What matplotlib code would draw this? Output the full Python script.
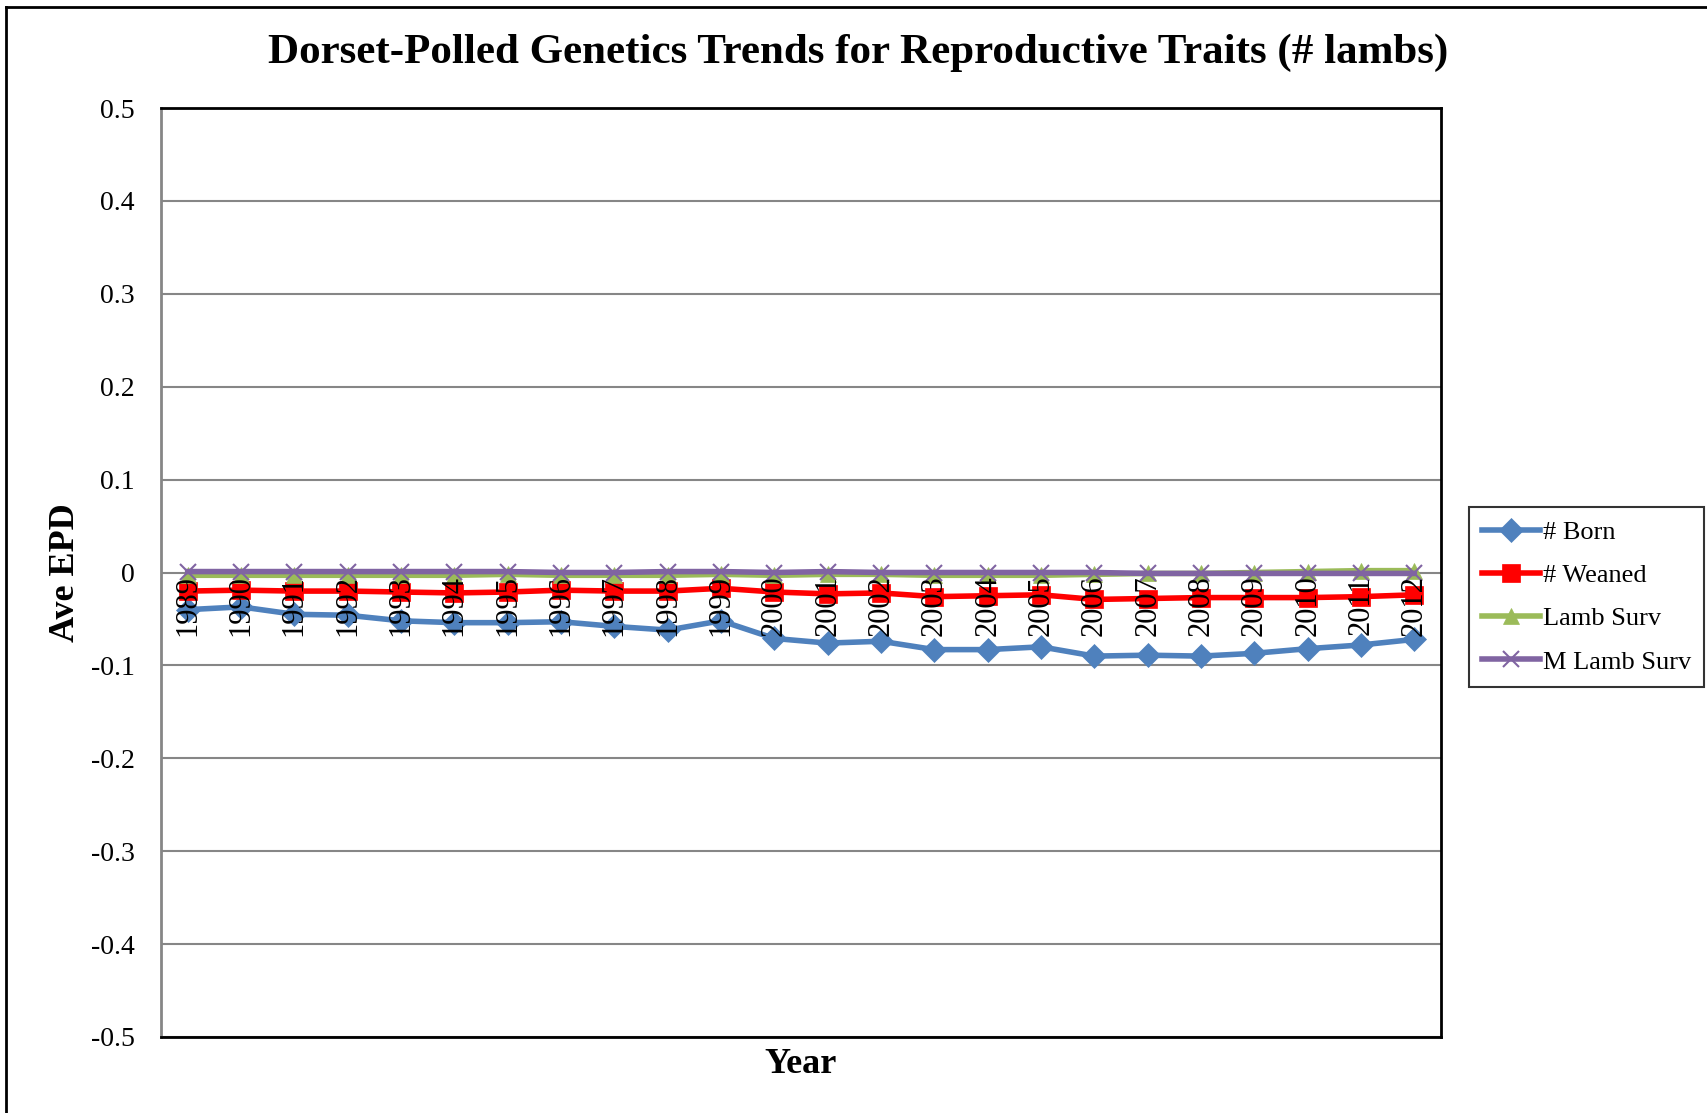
import matplotlib
matplotlib.use('Agg')
import matplotlib.pyplot as plt
from matplotlib.lines import Line2D

plt.rcParams['font.family'] = ['Liberation Serif', 'DejaVu Serif']

years = ['1989', '1990', '1991', '1992', '1993', '1994', '1995', '1996', '1997', '1998', '1999', '2000',
	'2001', '2002', '2003', '2004', '2005', '2006', '2007', '2008', '2009', '2010', '2011', '2012']

born = [-0.040, -0.037, -0.045, -0.046, -0.052, -0.054, -0.054, -0.053, -0.058, -0.062, -0.052, -0.071,
	-0.076, -0.074, -0.083, -0.083, -0.080, -0.090, -0.089, -0.090, -0.087, -0.082, -0.078, -0.072]
weaned = [-0.020, -0.019, -0.020, -0.020, -0.021, -0.022, -0.021, -0.019, -0.020, -0.020, -0.017, -0.021,
	-0.023, -0.022, -0.026, -0.025, -0.024, -0.029, -0.028, -0.027, -0.027, -0.027, -0.026, -0.024]
lamb_surv = [-0.003, -0.003, -0.003, -0.003, -0.003, -0.003, -0.002, -0.003, -0.003, -0.003, -0.002, -0.003,
	-0.002, -0.002, -0.003, -0.003, -0.003, -0.002, -0.001, -0.001, 0.000, 0.001, 0.002, 0.002]
m_lamb_surv = [0.001, 0.001, 0.001, 0.001, 0.001, 0.001, 0.001, 0.000, 0.000, 0.001, 0.001, 0.000,
	0.001, 0.000, 0.000, 0.000, 0.000, 0.000, -0.001, -0.001, -0.001, -0.001, -0.001, -0.001]

series = [
	('# Born', born, '#4F81BD', 'D', 12),
	('# Weaned', weaned, '#FF0000', 's', 13),
	('Lamb Surv', lamb_surv, '#9BBB59', '^', 12),
	('M Lamb Surv', m_lamb_surv, '#8064A2', 'x', 12),
]

fig = plt.figure(figsize=(17.07, 11.13), dpi=100)
ax = fig.add_axes([161 / 1707, 1 - 1037 / 1113, 1280 / 1707, 929 / 1113])

x = list(range(len(years)))
for label, vals, color, marker, ms in series:
	ax.plot(x, vals, color=color, marker=marker, markersize=ms, linewidth=4,
		markeredgewidth=1.5 if marker == 'x' else 0.5, markeredgecolor=color, label=label)

ax.set_xlim(-0.5, len(years) - 0.5)
ax.set_ylim(-0.5, 0.5)
ax.set_yticks([i / 10 for i in range(-5, 6)])
ax.set_yticklabels(['-0.5', '-0.4', '-0.3', '-0.2', '-0.1', '0', '0.1', '0.2', '0.3', '0.4', '0.5'], fontsize=20)
ax.tick_params(axis='y', length=0, pad=19)
ax.set_xticks([])
ax.yaxis.grid(True, color='#868686', linewidth=1.5)
ax.set_axisbelow(True)

for sp in ['top', 'right', 'bottom']:
	ax.spines[sp].set_color('black')
	ax.spines[sp].set_linewidth(2)
ax.spines['left'].set_color('#868686')
ax.spines['left'].set_linewidth(2)

# year labels sit on the zero line, like Excel's crossing axis
for i, yr in enumerate(years):
	ax.annotate(yr, xy=(i, 0), xytext=(0, -2), textcoords='offset points', rotation=90,
		ha='center', va='top', fontsize=22, zorder=5)

ax.set_xlabel('Year', fontsize=26, fontweight='bold', labelpad=8)
ax.set_ylabel('Ave EPD', fontsize=26, fontweight='bold', labelpad=6)
fig.text(858 / 1707, 1 - 53 / 1113, 'Dorset-Polled Genetics Trends for Reproductive Traits (# lambs)',
	ha='center', va='center', fontsize=31, fontweight='bold')

leg = ax.legend(loc='center left', bbox_to_anchor=(1469 / 1707, 1 - 597 / 1113), bbox_transform=fig.transFigure,
	fontsize=19, frameon=True, fancybox=False, edgecolor='black', handlelength=2.2,
	borderpad=0.5, labelspacing=0.75, handletextpad=0.1, borderaxespad=0)
leg.get_frame().set_linewidth(1.5)

fig.add_artist(Line2D([6 / 1707, 6 / 1707], [0, 1 - 7 / 1113], color='black', linewidth=2, transform=fig.transFigure))
fig.add_artist(Line2D([6 / 1707, 1], [1 - 7 / 1113, 1 - 7 / 1113], color='black', linewidth=2, transform=fig.transFigure))

fig.savefig('out.png', dpi=100)
